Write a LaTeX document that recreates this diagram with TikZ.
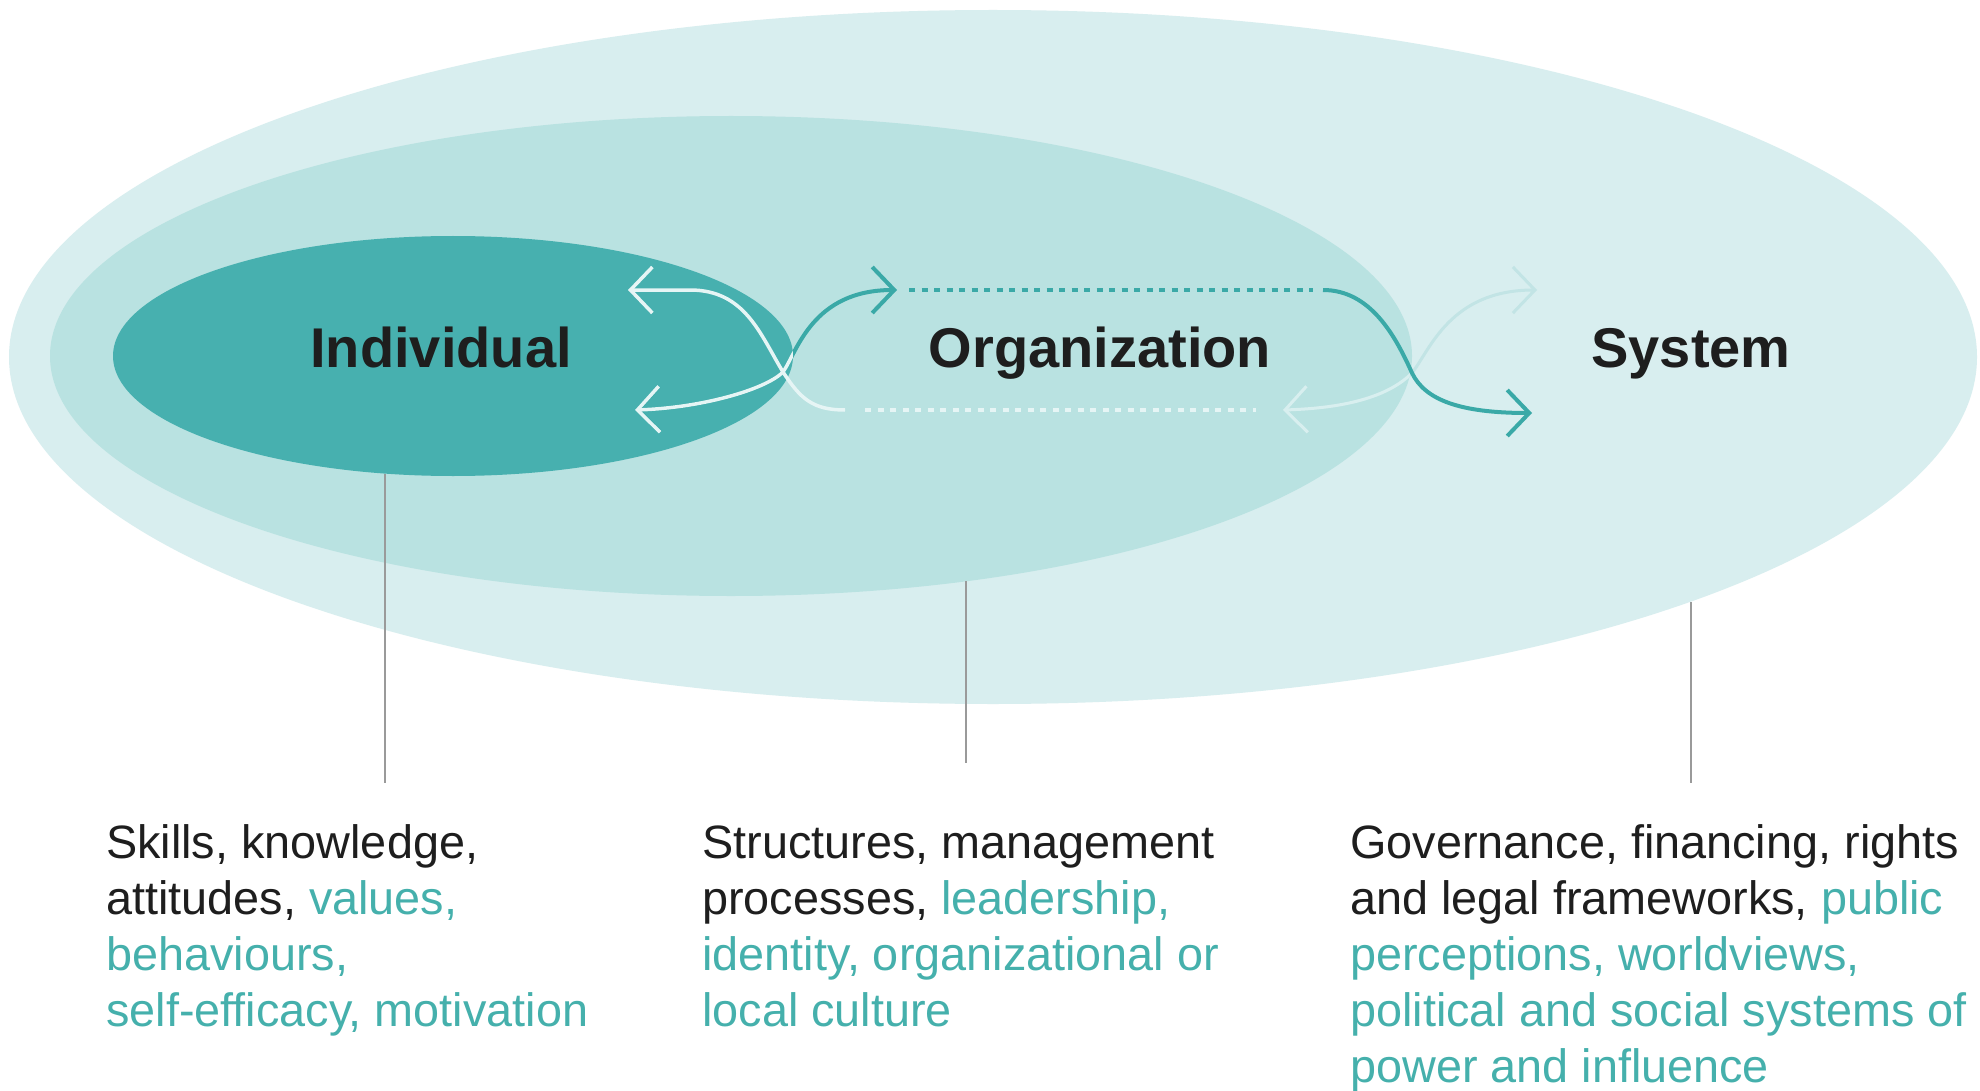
\documentclass[tikz,border=0pt]{standalone}
\usepackage{fontspec}
\setmainfont{Liberation Sans}
\usetikzlibrary{shapes.geometric,arrows.meta}
\definecolor{outerc}{HTML}{D8EEEF}
\definecolor{midc}{HTML}{B9E2E1}
\definecolor{innerc}{HTML}{47B0AF}
\definecolor{tealc}{HTML}{3AA9A7}
\definecolor{whitec}{HTML}{E6F5F5}
\definecolor{palec}{HTML}{C2E4E5}
\definecolor{paleinc}{HTML}{D8EFEF}
\definecolor{hlc}{HTML}{45B0AC}
\definecolor{textc}{HTML}{1E1E1E}
\definecolor{leadc}{HTML}{9A9A9A}
\newcommand\hlt[1]{\textcolor{hlc}{#1}}
\begin{document}
\begin{tikzpicture}[x=1pt,y=-1pt,
  blob/.style={ellipse, inner sep=0pt, draw=none},
  title/.style={font=\fontsize{56}{60}\selectfont\bfseries, text=textc, anchor=base, inner sep=0pt},
  body/.style={font=\fontsize{46.8}{56}\selectfont, text=textc, anchor=north west, align=left, inner sep=0pt},
  leader/.style={draw=leadc, line width=2pt},
  flow/.style={line width=4pt},
  dots/.style={line width=3.5pt, dash pattern=on 6pt off 6.5pt},
  barb/.tip={Straight Barb[length=22pt,width=46pt]}
]
\useasboundingbox[fill=white] (0,0) rectangle (1980,1091);

% nested ellipses
\node[blob, fill=outerc, minimum width=1968pt, minimum height=694pt] (sys) at (993,357) {};
\node[blob, fill=midc, minimum width=1362pt, minimum height=480pt] (org) at (731,356) {};
\node[blob, fill=innerc, minimum width=680pt, minimum height=240pt] (ind) at (453,356) {};

% titles
\node[title] (indt) at (441,367) {Individual};
\node[title] (orgt) at (1100,367) {Organization};
\node[title] (syst) at (1691,367) {System};

% arrow end points
\coordinate (wA) at (845,410);
\coordinate (wB) at (628,290);
\coordinate (tA) at (635,410);
\coordinate (tB) at (897,290);
\coordinate (tdA) at (909,290);
\coordinate (tdB) at (1313,290);
\coordinate (tC) at (1323,290);
\coordinate (tD) at (1532,413);
\coordinate (wdA) at (865,410);
\coordinate (wdB) at (1256,410);
\coordinate (pA) at (1283,410);
\coordinate (pB) at (1537,290);
\coordinate (xL) at (783,372);
\coordinate (xR) at (1412,373);

% left crossing
\draw[flow, draw=tealc, barb-barb] (tA) .. controls (700,408) and (765,390) .. (xL) .. controls (797,352) and (812,290) .. (tB);
\begin{scope}
  \clip (ind.center) ellipse [x radius=340pt, y radius=120pt];
  \draw[flow, line width=3.5pt, draw=whitec, barb-barb] (tA) .. controls (700,408) and (765,390) .. (xL) .. controls (797,352) and (812,290) .. (tB);
\end{scope}
\draw[flow, line width=3.5pt, draw=whitec, -barb] (wA) .. controls (812,410) and (800,398) .. (xL) .. controls (760,334) and (745,290) .. (690,290) -- (wB);

% dotted links
\draw[dots, draw=tealc] (tdA) -- (tdB);
\draw[dots, draw=whitec] (wdA) -- (wdB);

% right crossing
\draw[flow, line width=3pt, draw=palec, barb-barb] (pA) .. controls (1350,408) and (1390,395) .. (xR) .. controls (1430,350) and (1450,290) .. (pB);
\begin{scope}
  \clip (org.center) ellipse [x radius=681pt, y radius=240pt];
  \draw[flow, line width=3pt, draw=paleinc, barb-barb] (pA) .. controls (1350,408) and (1390,395) .. (xR) .. controls (1430,350) and (1450,290) .. (pB);
\end{scope}
\draw[flow, draw=tealc, -barb] (tC) .. controls (1370,290) and (1395,335) .. (xR) .. controls (1425,400) and (1460,413) .. (tD);

% text blocks
\node[body] (indtext) at (106,818) {\rule{0pt}{40pt}Skills, knowledge,\\attitudes, \hlt{values,}\\\hlt{behaviours,}\\\hlt{self-efficacy, motivation}};
\node[body] (orgtext) at (702,818) {\rule{0pt}{40pt}Structures, management\\processes, \hlt{leadership,}\\\hlt{identity, organizational or}\\\hlt{local culture}};
\node[body] (systext) at (1350,818) {\rule{0pt}{40pt}Governance, financing, rights\\and legal frameworks, \hlt{public}\\\hlt{perceptions, worldviews,}\\\hlt{political and social systems of}\\\hlt{power and influence}};

% leader lines
\coordinate (l1a) at (385,474);
\coordinate (l1b) at (385,783);
\coordinate (l2a) at (966,581);
\coordinate (l2b) at (966,763);
\coordinate (l3a) at (1691,602);
\coordinate (l3b) at (1691,783);
\draw[leader] (l1a) -- (l1b);
\draw[leader] (l2a) -- (l2b);
\draw[leader] (l3a) -- (l3b);
\end{tikzpicture}
\end{document}
